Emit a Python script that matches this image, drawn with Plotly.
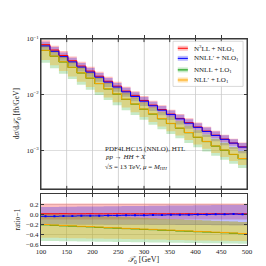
import plotly.graph_objects as go

# ---------------- data ----------------
bin_edges = [100, 117.4, 134.8, 152.2, 169.6, 187.0, 204.3, 221.7, 239.1, 256.5, 273.9, 291.3,
             308.7, 326.1, 343.5, 360.9, 378.3, 395.7, 413.0, 430.4, 447.8, 465.2, 482.6, 500]

ref = [0.0784, 0.0628, 0.0502, 0.0404, 0.0325, 0.0264, 0.0214, 0.0174, 0.0142, 0.0116,
       0.0096, 0.0079, 0.0065, 0.00543, 0.00450, 0.00377, 0.00316, 0.00265, 0.00224,
       0.00189, 0.00161, 0.00137, 0.00117]

series_names = ["N<sup>3</sup>LL + NLO<sub>1</sub>", "NNLL\u2032 + NLO<sub>1</sub>",
                "NNLL + LO<sub>1</sub>", "NLL\u2032 + LO<sub>1</sub>"]

# ratio-1 central values
r_n3ll = [0.01, 0.01, 0.012, 0.01, 0.01, 0.012, 0.01, 0.01, 0.012, 0.01, 0.01, 0.01,
          0.012, 0.01, 0.01, 0.01, 0.012, 0.01, 0.01, 0.012, 0.01, 0.01, 0.01]
r_nnllp = [-0.04, -0.04, -0.035, -0.035, -0.03, -0.03, -0.03, -0.025, -0.025, -0.02, -0.02, -0.02,
           -0.015, -0.015, -0.01, -0.01, -0.01, -0.005, -0.005, 0.0, 0.0, 0.005, 0.0]
r_nnll = [-0.205, -0.215, -0.225, -0.23, -0.24, -0.245, -0.255, -0.265, -0.27, -0.28, -0.285, -0.295,
          -0.30, -0.31, -0.315, -0.325, -0.33, -0.34, -0.345, -0.355, -0.36, -0.37, -0.38]
r_nllp = [-0.20, -0.21, -0.22, -0.225, -0.235, -0.24, -0.25, -0.26, -0.265, -0.275, -0.28, -0.29,
          -0.295, -0.305, -0.31, -0.32, -0.325, -0.335, -0.34, -0.35, -0.355, -0.365, -0.375]

# ratio-1 band edges
lo_n3ll = [-0.10, -0.10, -0.10, -0.10, -0.10, -0.10, -0.10, -0.10, -0.10, -0.10, -0.10, -0.10,
           -0.10, -0.10, -0.10, -0.10, -0.10, -0.10, -0.10, -0.10, -0.10, -0.10, -0.10]
hi_n3ll = [0.21, 0.21, 0.21, 0.21, 0.21, 0.21, 0.21, 0.21, 0.21, 0.21, 0.21, 0.21,
           0.21, 0.21, 0.21, 0.21, 0.21, 0.21, 0.21, 0.21, 0.21, 0.21, 0.21]
lo_nnllp = [-0.19, -0.19, -0.19, -0.19, -0.195, -0.195, -0.195, -0.2, -0.2, -0.2, -0.2, -0.2,
            -0.205, -0.205, -0.205, -0.21, -0.21, -0.21, -0.21, -0.215, -0.215, -0.22, -0.22]
hi_nnllp = [0.14, 0.14, 0.145, 0.145, 0.15, 0.15, 0.15, 0.155, 0.155, 0.16, 0.16, 0.16,
            0.165, 0.165, 0.17, 0.17, 0.17, 0.175, 0.175, 0.18, 0.18, 0.18, 0.18]
lo_nnll = [-0.52, -0.52, -0.525, -0.525, -0.53, -0.53, -0.535, -0.535, -0.54, -0.54, -0.545, -0.545,
           -0.55, -0.55, -0.555, -0.555, -0.56, -0.56, -0.565, -0.565, -0.57, -0.57, -0.575]
hi_nnll = [0.0, -0.01, -0.015, -0.02, -0.03, -0.035, -0.04, -0.05, -0.055, -0.06, -0.07, -0.075,
           -0.08, -0.09, -0.095, -0.10, -0.11, -0.115, -0.12, -0.13, -0.135, -0.14, -0.15]
lo_nllp = [-0.46, -0.46, -0.465, -0.47, -0.47, -0.475, -0.475, -0.48, -0.48, -0.485, -0.49, -0.49,
           -0.495, -0.495, -0.50, -0.50, -0.505, -0.51, -0.51, -0.515, -0.515, -0.52, -0.52]
hi_nllp = [0.02, 0.01, 0.0, -0.005, -0.015, -0.02, -0.03, -0.035, -0.045, -0.05, -0.06, -0.065,
           -0.075, -0.08, -0.09, -0.095, -0.105, -0.11, -0.12, -0.125, -0.135, -0.14, -0.15]

x_ticks = [100, 150, 200, 250, 300, 350, 400, 450, 500]
top_yticks = [0.1, 0.01, 0.001]
top_yticktext = ["10<sup>\u22121</sup>", "10<sup>\u22122</sup>", "10<sup>\u22123</sup>"]
ratio_yticks = [0.2, 0.0, -0.2, -0.4, -0.6]
ratio_yticktext = ["0.2", "0.0", "\u22120.2", "\u22120.4", "\u22120.6"]

# ---------------- styling ----------------
FONT = "Liberation Serif"
line_cols = ["rgb(255,0,0)", "rgb(0,0,255)", "rgb(0,150,0)", "rgb(255,165,0)"]
fill_cols = ["rgba(255,0,0,0.25)", "rgba(0,0,255,0.25)", "rgba(0,160,0,0.22)", "rgba(255,165,0,0.32)"]
show_markers = [False, True, False, False]

centrals = [r_n3ll, r_nnllp, r_nnll, r_nllp]
lows = [lo_n3ll, lo_nnllp, lo_nnll, lo_nllp]
highs = [hi_n3ll, hi_nnllp, hi_nnll, hi_nllp]

def step(v):
    return list(v) + [v[-1]]

fig = go.Figure()

# bands
for i in range(4):
    top_lo = [ref[k] * (1 + lows[i][k]) for k in range(len(ref))]
    top_hi = [ref[k] * (1 + highs[i][k]) for k in range(len(ref))]
    for yax, lo, hi in (("y", top_lo, top_hi), ("y2", lows[i], highs[i])):
        fig.add_trace(go.Scatter(x=bin_edges, y=step(lo), mode="lines", line=dict(width=0, shape="hv"),
                                 yaxis=yax, showlegend=False, hoverinfo="skip"))
        fig.add_trace(go.Scatter(x=bin_edges, y=step(hi), mode="lines", line=dict(width=0, shape="hv"),
                                 fill="tonexty", fillcolor=fill_cols[i], yaxis=yax,
                                 showlegend=False, hoverinfo="skip"))

# central lines
centers = [(bin_edges[k] + bin_edges[k + 1]) / 2 for k in range(len(ref))]
for i in range(4):
    top_c = [ref[k] * (1 + centrals[i][k]) for k in range(len(ref))]
    fig.add_trace(go.Scatter(x=bin_edges, y=step(top_c), mode="lines",
                             line=dict(color=line_cols[i], width=1, shape="hv"),
                             yaxis="y", showlegend=False))
    fig.add_trace(go.Scatter(x=bin_edges, y=step(centrals[i]), mode="lines",
                             line=dict(color=line_cols[i], width=1, shape="hv"),
                             yaxis="y2", showlegend=False))
    if show_markers[i]:
        fig.add_trace(go.Scatter(x=centers, y=centrals[i], mode="markers",
                                 marker=dict(color=line_cols[i], size=2, symbol="square"),
                                 yaxis="y2", showlegend=False))

axis_common = dict(showline=True, linecolor="#3a3a3a", linewidth=1, mirror="allticks",
                   ticks="inside", ticklen=3, tickcolor="#3a3a3a",
                   showgrid=True, gridcolor="rgba(200,200,200,0.6)", gridwidth=0.6,
                   zeroline=False, tickfont=dict(family=FONT, size=7, color="#222"))

fig.update_layout(
    width=266, height=266,
    margin=dict(l=33, r=27, t=31, b=29),
    paper_bgcolor="white", plot_bgcolor="white",
    font=dict(family=FONT, size=7, color="#222"),
    showlegend=False,
    xaxis=dict(range=[100, 500], tickvals=x_ticks, anchor="y2", showticklabels=True, **axis_common),
    yaxis=dict(type="log", range=[-3.68, -1], domain=[0.272, 1.0], anchor="x",
               tickvals=top_yticks, ticktext=top_yticktext, **axis_common),
    yaxis2=dict(range=[-0.6, 0.39], domain=[0.0, 0.246], anchor="x",
                tickvals=ratio_yticks, ticktext=ratio_yticktext, **axis_common),
)

# frame for top panel
fig.add_shape(type="rect", xref="paper", yref="paper", x0=0, x1=1, y0=0.272, y1=1.0,
              line=dict(color="#3a3a3a", width=1), layer="above")
for xv in x_ticks[1:-1]:
    for (ya, yb) in ((0.272, 0.287), (0.985, 1.0)):
        fig.add_shape(type="line", xref="x", yref="paper", x0=xv, x1=xv, y0=ya, y1=yb,
                      line=dict(color="#3a3a3a", width=1))
    fig.add_shape(type="line", xref="x", yref="paper", x0=xv, x1=xv, y0=0.272, y1=1.0,
                  line=dict(color="rgba(200,200,200,0.6)", width=0.6), layer="below")

# custom legend
leg_x0, leg_x1 = 0.641, 0.981
fig.add_shape(type="rect", xref="paper", yref="paper", x0=leg_x0, x1=leg_x1, y0=0.770, y1=0.989,
              line=dict(color="rgba(200,200,200,0.9)", width=0.8), fillcolor="rgba(255,255,255,0.85)")
leg_y = [0.955, 0.906, 0.850, 0.801]
for i in range(4):
    fig.add_shape(type="rect", xref="paper", yref="paper", x0=0.664, x1=0.713,
                  y0=leg_y[i] - 0.012, y1=leg_y[i] + 0.012, line=dict(width=0),
                  fillcolor=fill_cols[i])
    fig.add_shape(type="line", xref="paper", yref="paper", x0=0.664, x1=0.713,
                  y0=leg_y[i], y1=leg_y[i], line=dict(color=line_cols[i], width=1))
    fig.add_annotation(xref="paper", yref="paper", x=0.735, y=leg_y[i], text=series_names[i],
                       showarrow=False, xanchor="left", yanchor="middle",
                       font=dict(family=FONT, size=7, color="#222"))

# process text
info = ["PDF4LHC15 (NNLO), HTL", "<i>pp</i> \u2192 <i>HH</i> + <i>X</i>",
        "\u221a<i>S</i> = 13 TeV, <i>\u03bc</i> = <i>M<sub>HH</sub></i>"]
info_y = [0.466, 0.425, 0.381]
for t, yy in zip(info, info_y):
    fig.add_annotation(xref="paper", yref="paper", x=0.300, y=yy, text=t, showarrow=False,
                       xanchor="left", yanchor="middle", font=dict(family=FONT, size=7, color="#222"))

# axis titles
fig.add_annotation(xref="paper", yref="paper", x=-0.115, y=0.636,
                   text="d<i>\u03c3</i>/d<i>\U0001D4AF</i><sub>0</sub> [fb/GeV]", textangle=-90,
                   showarrow=False, xanchor="center", yanchor="middle", font=dict(family=FONT, size=7.5, color="#222"))
fig.add_annotation(xref="paper", yref="paper", x=-0.115, y=0.125, text="ratio\u22121", textangle=-90,
                   showarrow=False, xanchor="center", yanchor="middle", font=dict(family=FONT, size=7.5, color="#222"))
fig.add_annotation(xref="paper", yref="paper", x=0.5, y=-0.075,
                   text="<i>\U0001D4AF</i><sub>0</sub> [GeV]", showarrow=False,
                   xanchor="center", yanchor="middle", font=dict(family=FONT, size=8, color="#222"))

fig.write_html("out.html")
